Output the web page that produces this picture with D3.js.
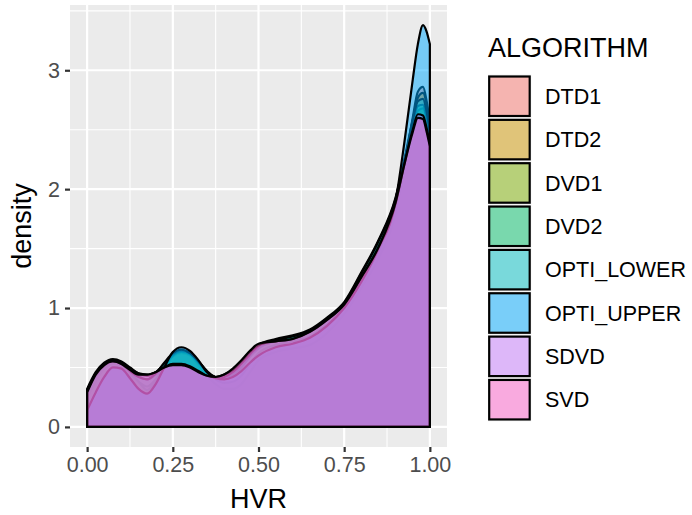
<html>
<head>
<meta charset="utf-8">
<title>HVR density</title>
<style type="text/css">
    body { margin: 0; background: #fff; }
    text { font-family: "Liberation Sans", Arial, sans-serif; }
</style>
</head>
<body>
<svg id="viz" width="692" height="515"></svg>

<script src="https://d3js.org/d3.v7.min.js"></script>
<script>

// density estimates, one value per hvr point
var hvr = [0, .025, .05, .075, .1, .125, .15, .175, .2, .225, .25, .275, .3, .325, .35, .375, .4, .425, .45, .475,
           .5, .55, .6, .65, .7, .75, .8, .85, .9, .925, .95, .965, .98, .99, 1.0];

var DTD1 = [.24,.38,.49,.53,.51,.45,.38,.34,.40,.50, .59,.62,.60,.52,.43, .36,.32,.32,.36,.46,
            .56,.63,.66,.69,.79, .95,1.17,1.42,1.80,2.18, 2.60,2.82,2.86,2.75,2.55];
var DTD2 = [.28,.42,.51,.55,.53,.47,.38,.31,.38,.50, .60,.63,.61,.54,.46, .40,.37,.38,.43,.53,
            .62,.69,.72,.76,.86, 1.00,1.22,1.47,1.86,2.20, 2.58,2.77,2.81,2.72,2.52];
var DVD1 = [.31,.45,.53,.56,.54,.48,.43,.40,.44,.52, .60,.63,.61,.54,.46, .42,.41,.44,.50,.59,
            .66,.72,.76,.80,.90, 1.03,1.26,1.52,1.90,2.22, 2.52,2.66,2.68,2.60,2.45];
var DVD2 = [.32,.46,.54,.57,.55,.50,.45,.43,.46,.53, .61,.64,.62,.55,.47, .42,.43,.47,.54,.62,
            .69,.74,.77,.82,.92, 1.05,1.30,1.57,1.93,2.23, 2.55,2.70,2.71,2.61,2.44];
var OPTI_LOWER = [.30,.44,.52,.55,.53,.47,.42,.40,.45,.54, .62,.65,.62,.55,.46, .41,.42,.46,.53,.61,
            .68,.73,.76,.81,.91, 1.04,1.29,1.56,1.92,2.24, 2.58,2.74,2.76,2.66,2.48];
var OPTI_UPPER = [.14,.29,.42,.50,.49,.41,.32,.28,.36,.50, .63,.67,.64,.56,.46, .41,.40,.42,.47,.54,
            .60,.67,.70,.75,.85, 1.00,1.22,1.50,1.90,2.38, 2.92,3.22,3.38,3.33,3.22];
var SDVD = [.30,.45,.53,.56,.54,.49,.45,.44,.46,.50, .53,.53,.51,.47,.43, .42,.44,.48,.55,.63,
            .69,.72,.74,.80,.90, 1.03,1.26,1.51,1.88,2.20, 2.50,2.63,2.62,2.52,2.38];
var SVD = [.29,.44,.52,.55,.53,.48,.44,.44,.46,.50, .52,.52,.50,.46,.43, .42,.44,.49,.56,.64,
            .70,.72,.74,.80,.90, 1.03,1.26,1.51,1.89,2.20, 2.48,2.60,2.59,2.49,2.36];

var algorithms = ["DTD1", "DTD2", "DVD1", "DVD2", "OPTI_LOWER", "OPTI_UPPER", "SDVD", "SVD"];
var densities = [DTD1, DTD2, DVD1, DVD2, OPTI_LOWER, OPTI_UPPER, SDVD, SVD];
var colors = ["#F8766D", "#CD9600", "#7CAE00", "#00BE67", "#00BFC4", "#00A9FF", "#C77CFF", "#FF61CC"];

var xTicks = [0, 0.25, 0.5, 0.75, 1];
var yTicks = [0, 1, 2, 3];

var svg = d3.select("#viz");
var panel = {left: 70, right: 447, top: 5, bottom: 447};

// ggplot style 5% expansion
var xmax = d3.max(hvr), ymax = d3.max(densities, function(s) { return d3.max(s); });
var x = d3.scaleLinear().domain([-0.05 * xmax, 1.05 * xmax]).range([panel.left, panel.right]);
var y = d3.scaleLinear().domain([-0.05 * ymax, 1.05 * ymax]).range([panel.bottom, panel.top]);

svg.append("rect")
    .attr("x", panel.left).attr("y", panel.top)
    .attr("width", panel.right - panel.left).attr("height", panel.bottom - panel.top)
    .attr("fill", "#EBEBEB");

var grid = svg.append("g");
var xMinor = [0.125, 0.375, 0.625, 0.875];
var yMinor = [0.5, 1.5, 2.5, 3.5];
grid.selectAll(".xminor").data(xMinor).enter().append("line")
    .attr("x1", x).attr("x2", x).attr("y1", panel.top).attr("y2", panel.bottom)
    .attr("stroke", "#fff").attr("stroke-width", 1.1);
grid.selectAll(".yminor").data(yMinor).enter().append("line")
    .attr("y1", y).attr("y2", y).attr("x1", panel.left).attr("x2", panel.right)
    .attr("stroke", "#fff").attr("stroke-width", 1.1);
grid.selectAll(".xmajor").data(xTicks).enter().append("line")
    .attr("x1", x).attr("x2", x).attr("y1", panel.top).attr("y2", panel.bottom)
    .attr("stroke", "#fff").attr("stroke-width", 2.2);
grid.selectAll(".ymajor").data(yTicks).enter().append("line")
    .attr("y1", y).attr("y2", y).attr("x1", panel.left).attr("x2", panel.right)
    .attr("stroke", "#fff").attr("stroke-width", 2.2);

var area = d3.area()
    .x(function(d, i) { return x(hvr[i]); })
    .y0(y(0))
    .y1(function(d) { return y(d); })
    .curve(d3.curveMonotoneX);

svg.append("g").selectAll("path")
    .data(densities)
    .enter().append("path")
    .attr("d", area)
    .attr("fill", function(d, i) { return colors[i]; })
    .attr("fill-opacity", 0.5)
    .attr("stroke", "#000")
    .attr("stroke-width", 2.2)
    .attr("stroke-linejoin", "round");

// axes
var xAxis = svg.append("g")
    .attr("transform", "translate(0," + panel.bottom + ")")
    .call(d3.axisBottom(x).tickValues(xTicks).tickFormat(d3.format(".2f")).tickSize(5).tickPadding(5));
var yAxis = svg.append("g")
    .attr("transform", "translate(" + panel.left + ",0)")
    .call(d3.axisLeft(y).tickValues(yTicks).tickFormat(d3.format("d")).tickSize(5).tickPadding(5));

[xAxis, yAxis].forEach(function(ax) {
    ax.select(".domain").remove();
    ax.selectAll(".tick line").attr("stroke", "#333").attr("stroke-width", 2.2);
    ax.selectAll(".tick text")
        .attr("fill", "#4D4D4D")
        .style("font-family", "'Liberation Sans', Arial, sans-serif")
        .style("font-size", "21.5px");
});

svg.append("text")
    .attr("x", (panel.left + panel.right) / 2).attr("y", 508)
    .attr("text-anchor", "middle")
    .style("font-size", "27px")
    .text("HVR");

svg.append("text")
    .attr("transform", "translate(31," + (panel.top + panel.bottom) / 2 + ") rotate(-90)")
    .attr("text-anchor", "middle")
    .style("font-size", "27px")
    .text("density");

// legend
var legend = svg.append("g").attr("transform", "translate(488,0)");
legend.append("text")
    .attr("x", 0).attr("y", 56.5)
    .style("font-size", "27px")
    .text("ALGORITHM");

var key = legend.selectAll(".key")
    .data(algorithms)
    .enter().append("g")
    .attr("transform", function(d, i) { return "translate(0," + (74.5 + i * 43.35) + ")"; });

key.append("rect")
    .attr("width", 43.35).attr("height", 43.35)
    .attr("fill", "#F2F2F2");
key.append("rect")
    .attr("x", 1.2).attr("y", 2).attr("width", 40.5).attr("height", 39.5)
    .attr("fill", function(d, i) { return colors[i]; })
    .attr("fill-opacity", 0.5)
    .attr("stroke", "#000")
    .attr("stroke-width", 2.2);
key.append("text")
    .attr("x", 57).attr("y", 21.7)
    .attr("dy", "0.36em")
    .style("font-size", "21.5px")
    .text(function(d) { return d; });

</script>
</body>
</html>
